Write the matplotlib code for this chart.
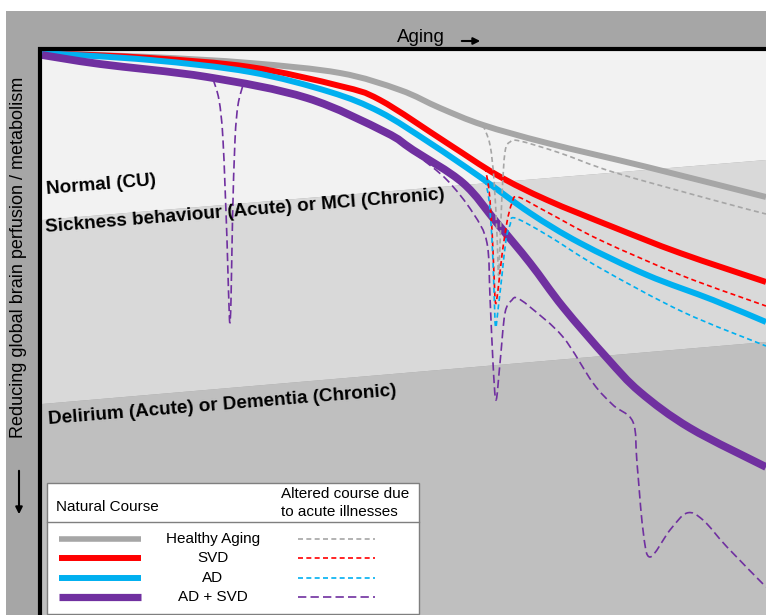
import numpy as np
import matplotlib.pyplot as plt
from matplotlib.path import Path
from matplotlib.patches import PathPatch, Rectangle, Polygon

plt.rcParams['font.family'] = ['Liberation Sans', 'DejaVu Sans']

W, H = 766, 615

# natural course (pixel units, y grows downwards)
healthy_x = [42, 150, 250, 340, 400, 440, 483, 547, 647, 766]
healthy_y = [53, 57, 63, 73, 90, 108, 125, 143, 167, 197]
svd_x = [42, 150, 250, 340, 380, 447, 497, 547, 613, 680, 766]
svd_y = [53, 58, 67, 86, 100, 143, 175, 200, 227, 253, 282]
ad_x = [42, 150, 250, 330, 380, 430, 480, 530, 580, 647, 713, 766]
ad_y = [53, 60, 72, 92, 112, 143, 177, 213, 243, 275, 300, 322]
adsvd_x = [42, 100, 207, 307, 385, 413, 463, 497, 530, 563, 607, 640, 690, 766]
adsvd_y = [55, 64, 77, 98, 132, 150, 183, 223, 263, 307, 358, 392, 428, 467]

# altered course due to acute illnesses
healthy_alt_x = [483, 490, 494, 497, 498.5, 500, 502, 505, 510, 520, 560, 613, 713, 766]
healthy_alt_y = [125, 145, 180, 235, 275, 245, 195, 152, 142, 141, 153, 172, 200, 214]
svd_alt_x = [485, 489, 492, 494, 495.5, 498, 502, 507, 512, 518, 547, 600, 683, 766]
svd_alt_y = [167, 190, 230, 275, 303, 290, 255, 222, 203, 197, 212, 240, 276, 306]
ad_alt_x = [485, 489, 492, 494, 495.5, 498, 502, 506, 510, 515, 547, 600, 683, 766]
ad_alt_y = [180, 200, 240, 290, 327, 310, 275, 240, 225, 218, 235, 268, 312, 346]
adsvd_dip1_x = [213, 219, 223, 227, 229.5, 231, 232.5, 235, 238, 243]
adsvd_dip1_y = [79, 100, 140, 240, 320, 300, 220, 140, 105, 85]
adsvd_alt_x = [395, 417, 447, 473, 487, 490, 493, 496, 500, 505, 512, 517, 530, 563,
               593, 613, 633, 637, 643, 650, 670, 687, 703, 727, 766]
adsvd_alt_y = [137, 155, 180, 213, 243, 297, 363, 400, 363, 313, 300, 298, 307, 337,
               383, 405, 422, 463, 530, 557, 530, 513, 520, 547, 587]

names = ['Healthy Aging', 'SVD', 'AD', 'AD + SVD']
colors = ['#a6a6a6', '#ff0000', '#00b0f0', '#7030a0']


def smooth_path(xs, ys):
    p = np.column_stack([xs, ys]).astype(float)
    ext = np.vstack([p[0], p, p[-1]])
    verts = [p[0]]
    codes = [Path.MOVETO]
    for i in range(1, len(ext) - 2):
        p0, p1, p2, p3 = ext[i - 1], ext[i], ext[i + 1], ext[i + 2]
        verts += [p1 + (p2 - p0) / 6, p2 - (p3 - p1) / 6, p2]
        codes += [Path.CURVE4] * 3
    return Path(verts, codes)


fig = plt.figure(figsize=(7.66, 6.15), dpi=100)
ax = fig.add_axes([0, 0, 1, 1])
ax.set_xlim(0, W)
ax.set_ylim(H, 0)
ax.axis('off')

# frame and zones
ax.add_patch(Rectangle((6, 11), W - 6, H - 11, fc='#a6a6a6', ec='none'))
ax.add_patch(Polygon([(42, 51), (W, 51), (W, 160), (42, 220)], fc='#f2f2f2', ec='none'))
ax.add_patch(Polygon([(42, 220), (W, 160), (W, 342), (42, 404)], fc='#d9d9d9', ec='none'))
ax.add_patch(Polygon([(42, 404), (W, 342), (W, H), (42, H)], fc='#bfbfbf', ec='none'))
ax.plot([40, 40], [47, H], color='k', lw=3, solid_capstyle='butt')
ax.plot([38, W], [49, 49], color='k', lw=3, solid_capstyle='butt')

zone_font = dict(fontsize=13.6, fontweight='bold', rotation=4.7, rotation_mode='anchor',
                 ha='left', va='baseline')
ax.text(47, 194, 'Normal (CU)', **zone_font)
ax.text(46, 232, 'Sickness behaviour (Acute) or MCI (Chronic)', **zone_font)
ax.text(49, 424, 'Delirium (Acute) or Dementia (Chronic)', **zone_font)

# solid curves
solid = [(healthy_x, healthy_y), (svd_x, svd_y), (ad_x, ad_y), (adsvd_x, adsvd_y)]
widths = [4.3, 4.3, 4.3, 5.6]
for (xs, ys), c, lw in zip(solid, colors, widths):
    ax.add_patch(PathPatch(smooth_path(xs, ys), fill=False, ec=c, lw=lw, capstyle='butt'))

# dashed curves
short_dash = (0, (3, 2))
long_dash = (0, (5, 2.5))
dashed = [(healthy_alt_x, healthy_alt_y, colors[0], short_dash),
          (svd_alt_x, svd_alt_y, colors[1], short_dash),
          (ad_alt_x, ad_alt_y, colors[2], short_dash),
          (adsvd_dip1_x, adsvd_dip1_y, colors[3], long_dash),
          (adsvd_alt_x, adsvd_alt_y, colors[3], long_dash)]
for xs, ys, c, ls in dashed:
    ax.add_patch(PathPatch(smooth_path(xs, ys), fill=False, ec=c, lw=1.2, ls=ls))

# axis captions
ax.text(421, 37, 'Aging', ha='center', va='center', fontsize=13.5)
ax.annotate('', xy=(483, 41), xytext=(459, 41),
            arrowprops=dict(arrowstyle='-|>', color='k', lw=1.5, mutation_scale=10))
ax.text(19, 257, 'Reducing global brain perfusion / metabolism', rotation=90,
        ha='center', va='center', fontsize=13)
ax.annotate('', xy=(19, 517), xytext=(19, 468),
            arrowprops=dict(arrowstyle='-|>', color='k', lw=1.5, mutation_scale=10))

# legend box
ax.add_patch(Rectangle((47, 483), 372, 131, fc='white', ec='#7f7f7f', lw=1))
ax.plot([47, 419], [522, 522], color='#7f7f7f', lw=1)
ax.text(56, 507, 'Natural Course', ha='left', va='center', fontsize=11)
ax.text(281, 503, 'Altered course due\nto acute illnesses', ha='left', va='center',
        fontsize=11, linespacing=1.3)
legend_dash = [short_dash, short_dash, short_dash, long_dash]
legend_w = [4, 4.3, 4.3, 5.2]
for i, (name, c) in enumerate(zip(names, colors)):
    y = 539 + i * 19.3
    ax.plot([59, 141], [y, y], color=c, lw=legend_w[i], solid_capstyle='butt')
    ax.plot([298, 375], [y, y], color=c, lw=1.2, ls=legend_dash[i])
    ax.text(213, y, name, ha='center', va='center', fontsize=11)

fig.savefig('out.png', dpi=100)
